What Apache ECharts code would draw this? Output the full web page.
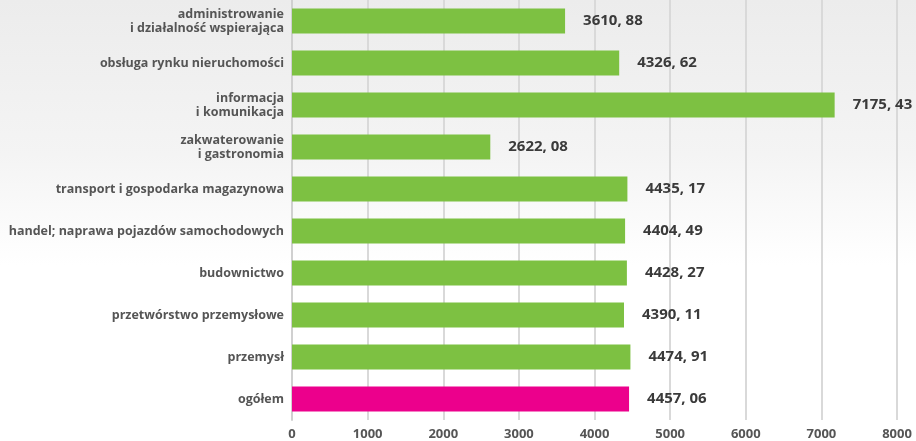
<!DOCTYPE html>
<html>
<head>
<meta charset="utf-8">
<script src="https://cdn.jsdelivr.net/npm/echarts@6/dist/echarts.min.js"></script>
<style>
html,body{margin:0;padding:0;background:#fff;}
#c{width:916px;height:441px;}
</style>
</head>
<body>
<div id="c"></div>
<script>
const categories = [
  "administrowanie\ni działalność wspierająca",
  "obsługa rynku nieruchomości",
  "informacja\ni komunikacja",
  "zakwaterowanie\ni gastronomia",
  "transport i gospodarka magazynowa",
  "handel; naprawa pojazdów samochodowych",
  "budownictwo",
  "przetwórstwo przemysłowe",
  "przemysł",
  "ogółem"
];
const values = [3610.88, 4326.62, 7175.43, 2622.08, 4435.17, 4404.49, 4428.27, 4390.11, 4474.91, 4457.06];
const xTicks = [0, 1000, 2000, 3000, 4000, 5000, 6000, 7000, 8000];
const GREEN = '#7dc142';
const PINK = '#ec008c';

const chart = echarts.init(document.getElementById('c'), null, {renderer: 'canvas'});
const FONT = '"Open Sans"';
chart.setOption({
  backgroundColor: {
    type: 'linear', x: 0, y: 0, x2: 0, y2: 1,
    colorStops: [
      {offset: 0, color: '#ececec'},
      {offset: 0.35, color: '#f4f4f4'},
      {offset: 0.6, color: '#ffffff'},
      {offset: 1, color: '#ffffff'}
    ]
  },
  animation: false,
  grid: {left: 292, right: 19, top: 0, bottom: 21, containLabel: false},
  xAxis: {
    type: 'value',
    min: xTicks[0],
    max: xTicks[xTicks.length - 1],
    interval: 1000,
    axisLine: {show: false},
    axisTick: {show: false},
    splitLine: {show: true, lineStyle: {color: '#d9d9d9', width: 2}},
    axisLabel: {
      color: '#555555', fontFamily: FONT, fontWeight: 700, fontSize: 13, margin: 8,
      formatter: v => String(v)
    }
  },
  yAxis: {
    type: 'category',
    data: categories,
    inverse: true,
    axisLine: {show: true, lineStyle: {color: '#d0d0d0', width: 2}},
    axisTick: {show: false},
    axisLabel: {
      color: '#555555', fontFamily: FONT, fontWeight: 700, fontSize: 12.5,
      lineHeight: 14, margin: 8, align: 'right'
    }
  },
  series: [{
    type: 'bar',
    barWidth: 25,
    data: values.map((v, i) => ({
      value: v,
      itemStyle: {color: i === values.length - 1 ? PINK : GREEN}
    })),
    label: {
      show: true,
      position: 'right',
      distance: 18,
      color: '#3a3a3a',
      fontFamily: FONT,
      fontWeight: 700,
      fontSize: 15,
      formatter: p => p.value.toFixed(2).replace('.', ', ')
    }
  }]
});
</script>
</body>
</html>
